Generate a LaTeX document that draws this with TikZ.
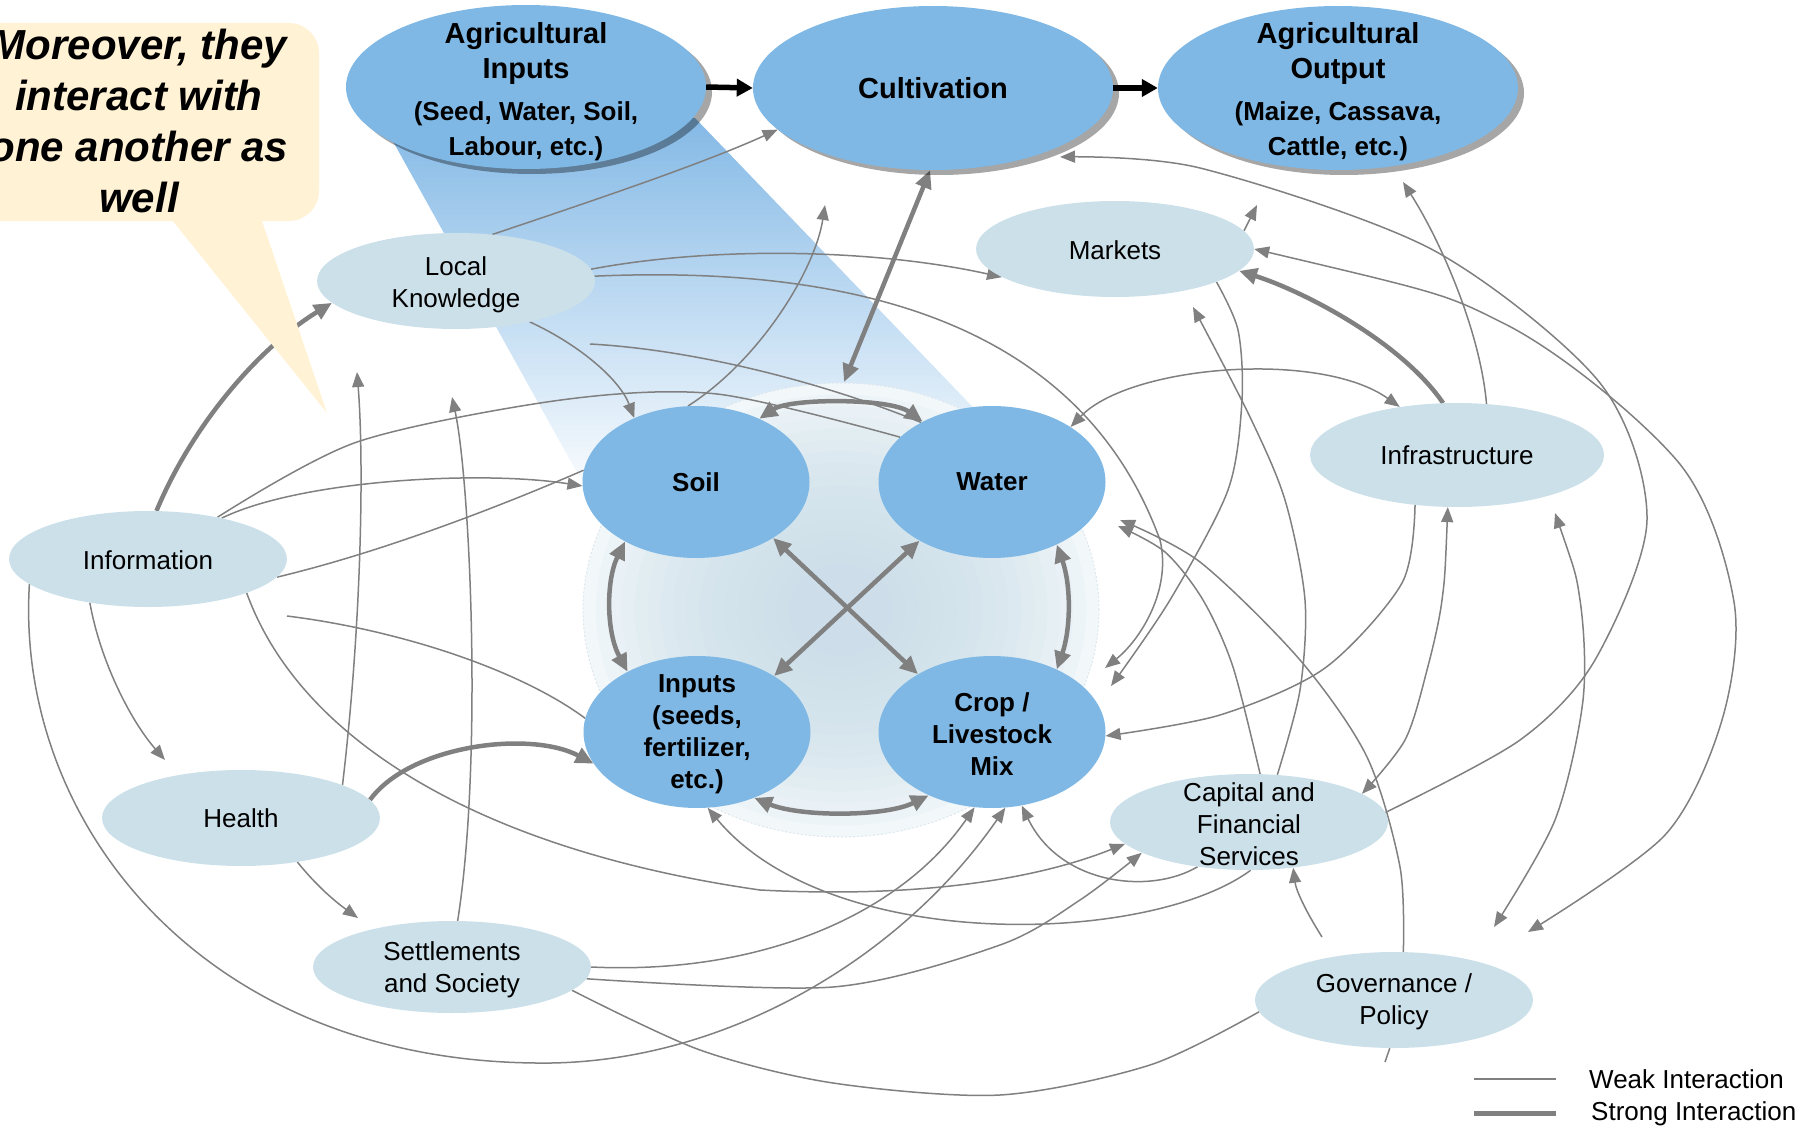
\documentclass[tikz,border=0pt]{standalone}
\usepackage{fontspec}
\setmainfont{Liberation Sans}
\usetikzlibrary{arrows.meta,shapes.geometric}
\definecolor{primc}{HTML}{7FB8E4}
\definecolor{secc}{HTML}{CCE0EA}
\definecolor{lgc}{HTML}{808080}
\definecolor{callc}{HTML}{FFF2D5}
\definecolor{beamc}{HTML}{84B9E6}
\definecolor{glowin}{HTML}{CADEEA}
\definecolor{glowout}{HTML}{F2F7FA}
\definecolor{glowline}{HTML}{DDE7ED}
\pgfdeclarelayer{back}
\pgfdeclarelayer{edges}
\pgfsetlayers{back,edges,main}
\tikzset{
  topn/.style={ellipse, fill=primc, inner sep=0pt, minimum width=360pt, minimum height=164pt},
  shad/.style={ellipse, fill=black, opacity=0.35, inner sep=0pt, minimum width=360pt, minimum height=164pt},
  primn/.style={ellipse, fill=primc, inner sep=0pt, minimum width=227pt, minimum height=152pt},
  secn/.style={ellipse, fill=secc, inner sep=0pt, minimum width=278pt, minimum height=96pt},
  toptext/.style={align=center, inner sep=0pt, font=\fontsize{29}{35}\selectfont\bfseries},
  primtext/.style={align=center, inner sep=0pt, font=\fontsize{26}{32}\selectfont\bfseries},
  sectext/.style={align=center, inner sep=0pt, font=\fontsize{26}{32}\selectfont},
  calltext/.style={align=center, inner sep=0pt, font=\fontsize{42}{51}\selectfont\bfseries\itshape},
  weak/.style={draw=lgc, line width=1.5pt},
  weakto/.style={weak, -{Triangle[length=15pt,width=12pt]}},
  weakboth/.style={weak, {Triangle[length=15pt,width=12pt]}-{Triangle[length=15pt,width=12pt]}},
  strongto/.style={draw=lgc, line width=4.5pt, -{Triangle[length=18pt,width=16pt]}},
  strongboth/.style={draw=lgc, line width=4.5pt, {Triangle[length=18pt,width=16pt]}-{Triangle[length=18pt,width=16pt]}},
  blackto/.style={draw=black, line width=5.5pt, -{Triangle[length=16pt,width=17pt]}},
}
\begin{document}
\begin{tikzpicture}[x=1pt,y=-1pt]
\useasboundingbox (0,0) rectangle (1816,1129);

% ---------- background: beam and glow ----------
\begin{pgfonlayer}{back}
\shade[top color=beamc, bottom color=white] (380,118) -- (695,118) -- (990,425) -- (595,505) -- cycle;
\fill[glowout] (841,610) ellipse [x radius=258pt, y radius=227pt];
\foreach \k in {1,...,16} {
  \fill[glowin, opacity=0.1] (841,610) ellipse [x radius={(1-\k*0.05)*258pt}, y radius={(1-\k*0.05)*227pt}];
}
\draw[glowline, line width=1pt, dash pattern=on 2pt off 2pt] (841,610) ellipse [x radius=258pt, y radius=227pt];
\end{pgfonlayer}

% ---------- callout ----------
\fill[callc, rounded corners=30pt] (-80,23) rectangle (319,221);
\fill[callc] (168,215) -- (260,215) -- (327,413) -- cycle;
\node[calltext] (callout) at (139,121) {Moreover, they\\interact with\\one another as\\well};

% ---------- top nodes ----------
\node[shad] (AIs) at (532,92) {};
\node[topn] (AI) at (526,87) {};
\node[toptext] (AIt) at (526,92) {Agricultural\\Inputs\\[7pt]{\fontsize{26}{35}\selectfont (Seed, Water, Soil,}\\{\fontsize{26}{35}\selectfont Labour, etc.)}};
\node[shad] (CUs) at (939,93) {};
\node[topn] (CU) at (933,88) {};
\node[toptext] (CUt) at (933,88) {Cultivation};
\node[shad] (AOs) at (1344,93) {};
\node[topn] (AO) at (1338,88) {};
\node[toptext] (AOt) at (1338,92) {Agricultural\\Output\\[7pt]{\fontsize{26}{35}\selectfont (Maize, Cassava,}\\{\fontsize{26}{35}\selectfont Cattle, etc.)}};

% ---------- core nodes ----------
\node[primn] (SO) at (696,482) {};
\node[primtext] (SOt) at (696,482) {Soil};
\node[primn] (WA) at (992,482) {};
\node[primtext] (WAt) at (992,482) {Water};
\node[primn] (IN) at (697,732) {};
\node[primtext] (INt) at (697,734) {Inputs\\(seeds,\\fertilizer,\\etc.)};
\node[primn] (CR) at (992,732) {};
\node[primtext] (CRt) at (992,734) {Crop /\\Livestock\\Mix};

% ---------- secondary nodes ----------
\node[secn] (LK) at (456,281) {};
\node[sectext] (LKt) at (456,285) {Local\\Knowledge};
\node[secn] (MK) at (1115,249) {};
\node[sectext] (MKt) at (1115,250) {Markets};
\node[secn] (inf) at (148,559) {};
\node[sectext] (inft) at (148,560) {Information};
\node[secn, minimum width=294pt, minimum height=104pt] (IS) at (1457,455) {};
\node[sectext] (ISt) at (1457,455) {Infrastructure};
\node[secn] (HE) at (241,818) {};
\node[sectext] (HEt) at (241,818) {Health};
\node[secn] (CA) at (1249,822) {};
\node[sectext] (CAt) at (1249,824) {Capital and\\Financial\\Services};
\node[secn, minimum height=92pt] (SE) at (452,967) {};
\node[sectext] (SEt) at (452,970) {Settlements\\and Society};
\node[secn] (GO) at (1394,1000) {};
\node[sectext] (GOt) at (1394,1002) {Governance /\\Policy};

% ---------- free ends ----------
\coordinate (c1) at (844,382);
\coordinate (c2) at (1105,668);
\coordinate (c3) at (1111,686);
\coordinate (f1) at (590,344);
\coordinate (f2) at (287,616);
\coordinate (u2) at (825,205);
\coordinate (h1) at (165,760);
\coordinate (h2) at (357,372);
\coordinate (s1) at (452,397);
\coordinate (s2) at (358,918);
\coordinate (g1) at (1322,937);
\coordinate (g2) at (1494,927);
\coordinate (g3) at (1528,932);
\coordinate (w1) at (1120,520);
\coordinate (w2) at (1118,526);
\coordinate (m1) at (1193,307);
\coordinate (m2) at (1257,205);
\coordinate (a1) at (1403,182);
\coordinate (i1) at (1555,513);
\coordinate (u1) at (1060,157);
\coordinate (stub) at (1385,1062);

% ---------- legend ----------
\coordinate (lg1) at (1474,1079);
\coordinate (lg2) at (1556,1079);
\coordinate (lg3) at (1474,1113);
\coordinate (lg4) at (1556,1113);
\draw[weak] (lg1) -- (lg2);
\draw[draw=lgc, line width=5pt] (lg3) -- (lg4);
\node[sectext, anchor=west] (lgw) at (1589,1079) {Weak Interaction};
\node[sectext, anchor=west] (lgs) at (1591,1114) {Strong Interaction};

% ---------- connectors ----------
\begin{pgfonlayer}{edges}
% black flow
\draw[blackto] (AI.east) -- (CU.west);
\draw[blackto] (CU.east) -- (AO.west);
% strong
\draw[strongboth] (CU.-92) -- (c1);
\draw[strongboth] (SO.45) .. controls (790,398) and (890,398) .. (WA.139);
\draw[strongboth] (SO.-140) .. controls (606,580) and (606,632) .. (IN.139);
\draw[strongboth] (WA.-44) .. controls (1071,585) and (1071,628) .. (CR.44);
\draw[strongboth] (IN.-49) .. controls (800,817) and (885,817) .. (CR.-135);
\draw[strongboth] (SO.-36) -- (CR.142);
\draw[strongboth] (WA.-141) -- (IN.36);
\draw[strongto] (HE.8) .. controls (410,745) and (530,730) .. (IN.-163);
\draw[strongto] (inf.80) .. controls (190,430) and (255,350) .. (LK.-170);
\draw[strongto] (IS.105) .. controls (1400,340) and (1300,290) .. (MK.-10);
% weak
\draw[weakto] (LK.52) .. controls (580,205) and (700,165) .. (CU.-165);
\draw[weakto] (LK.5) .. controls (720,245) and (880,250) .. (MK.-166);
\draw[weakto] (LK.2) .. controls (850,265) and (1080,320) .. (1160,540) .. controls (1172,590) and (1140,640) .. (c2);
\draw[weakto] (LK.-29) .. controls (580,345) and (620,380) .. (SO.134);
\draw[weak] (f1) .. controls (700,350) and (830,385) .. (WA.140);
\draw[weakto] (SO.96) .. controls (760,360) and (815,270) .. (u2);
\draw[weak] plot[smooth] coordinates {(inf.31) (357,442) (561,400) (717,394) (WA.154)};
\draw[weakto] (inf.29) .. controls (300,480) and (480,470) .. (SO.-178);
\draw[weak] (inf.-8) .. controls (370,555) and (480,515) .. (SO.174);
\draw[weakto] (inf.-143) .. controls (100,660) and (130,720) .. (h1);
\draw[weakto] (inf.-19) .. controls (300,740) and (480,850) .. (760,890) .. controls (950,900) and (1060,870) .. (CA.-170);
\draw[weakto] (inf.-168) .. controls (15,820) and (200,1060) .. (536,1063) .. controls (720,1066) and (900,960) .. (CR.-80);
\draw[weakto] (HE.18) .. controls (362,620) and (364,460) .. (h2);
\draw[weakto] (SE.83) .. controls (483,760) and (470,480) .. (s1);
\draw[weakto] (HE.-38) .. controls (320,890) and (340,905) .. (s2);
\draw[weak] (f2) .. controls (400,630) and (520,670) .. (IN.173);
\draw[weakto] (CA.-88) .. controls (1150,945) and (830,955) .. (IN.-82);
\draw[weakto] plot[smooth] coordinates {(SE.-5) (833,987) (1000,945) (1080,900) (CA.-164)};
\draw[weak] plot[smooth] coordinates {(SE.-11) (700,1050) (833,1083) (1000,1095) (1150,1065) (GO.-175)};
\draw[weakto] (g1) .. controls (1305,910) and (1296,890) .. (CA.-46);
\draw[weakto] plot[smooth] coordinates {(GO.79) (1400,867) (1367,757) (1300,660) (1200,562) (w1)};
\draw[weakto] plot[smooth] coordinates {(CA.77) (1233,667) (1203,600) (1165,552) (w2)};
\draw[weakto] plot[smooth] coordinates {(CA.59) (1300,690) (1305,600) (1285,500) (1250,417) (m1)};
\draw[weakto] plot[smooth] coordinates {(MK.-18) (1238,330) (1242,400) (1228,490) (1170,600) (c3)};
\draw[weakto] (MK.8) -- (m2);
\draw[weakboth] (WA.35) .. controls (1130,365) and (1320,350) .. (IS.140);
\draw[weakto] (IS.60) .. controls (1480,330) and (1440,240) .. (a1);
\draw[weakto] plot[smooth] coordinates {(IS.-130) (1402,583) (1325,668) (1220,715) (CR.-2)};
\draw[weakboth] plot[smooth] coordinates {(IS.-100) (1442,600) (1427,670) (1405,740) (CA.14)};
\draw[weakboth] plot[smooth] coordinates {(i1) (1580,600) (1583,700) (1555,820) (g2)};
\draw[weakto] plot[smooth] coordinates {(CA.4) (1520,740) (1595,660) (1647,520) (1600,383) (1433,250) (1200,168) (u1)};
\draw[weakboth] plot[smooth] coordinates {(MK.0) (1505,324) (1679,463) (1734,602) (1722,720) (1665,835) (g3)};
\draw[weakto] (CA.-139) .. controls (1150,895) and (1060,885) .. (CR.-68);
\draw[weakto] (SE.0) .. controls (760,975) and (900,915) .. (CR.-103);
\draw[weak] (GO.-95) -- (stub);
\end{pgfonlayer}
\end{tikzpicture}
\end{document}
